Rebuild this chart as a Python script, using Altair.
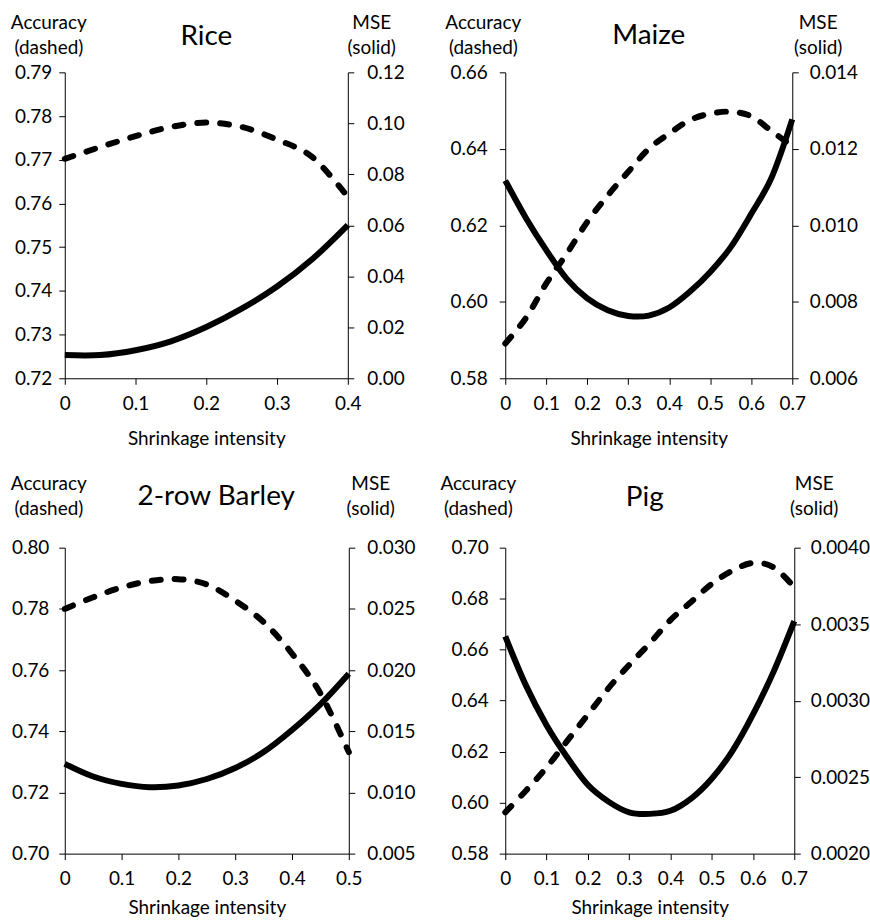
import altair as alt
import pandas as pd

FONT = "Lato"

# ---------------- data ----------------
rice_x = [0, 0.05, 0.1, 0.15, 0.2, 0.25, 0.3, 0.35, 0.4]
rice_acc = [0.7702, 0.7729, 0.7754, 0.7775, 0.7785, 0.7775, 0.7746, 0.7706, 0.7615]
rice_mse = [0.0091, 0.0091, 0.0110, 0.0145, 0.0201, 0.0273, 0.0360, 0.0468, 0.0601]

maize_x = [0, 0.05, 0.1, 0.15, 0.2, 0.25, 0.3, 0.35, 0.4, 0.45, 0.5, 0.55, 0.6, 0.65, 0.7]
maize_acc = [0.5891, 0.5957, 0.6048, 0.6126, 0.6209, 0.6278, 0.6340, 0.6400, 0.6440,
             0.6475, 0.6492, 0.6497, 0.6485, 0.6446, 0.6407]
maize_mse = [0.01117, 0.01020, 0.00935, 0.00860, 0.00809, 0.00778, 0.00763, 0.00764,
             0.00785, 0.00826, 0.00878, 0.00943, 0.01030, 0.01126, 0.01277]

barley_x = [0, 0.05, 0.1, 0.15, 0.2, 0.25, 0.3, 0.35, 0.4, 0.45, 0.5]
barley_acc = [0.7800, 0.7838, 0.7870, 0.7891, 0.7897, 0.7880, 0.7827, 0.7757, 0.7654, 0.7524, 0.7332]
barley_mse = [0.01234, 0.01130, 0.01070, 0.01043, 0.01057, 0.01110, 0.01200, 0.01330, 0.01510, 0.01720, 0.01970]

pig_x = [0, 0.05, 0.1, 0.15, 0.2, 0.25, 0.3, 0.35, 0.4, 0.45, 0.5, 0.55, 0.6, 0.65, 0.7]
pig_acc = [0.5962, 0.6047, 0.6138, 0.6242, 0.6345, 0.6449, 0.6540, 0.6625, 0.6716,
           0.6787, 0.6858, 0.6910, 0.6940, 0.6923, 0.6845]
pig_mse = [0.00342, 0.00310, 0.00284, 0.00263, 0.00245, 0.00234, 0.00227, 0.00226,
           0.00228, 0.00236, 0.00249, 0.00267, 0.00291, 0.00319, 0.00352]

rice_xticks = [0, 0.1, 0.2, 0.3, 0.4]
long_xticks = [0, 0.1, 0.2, 0.3, 0.4, 0.5, 0.6, 0.7]
barley_xticks = [0, 0.1, 0.2, 0.3, 0.4, 0.5]

rice_acc_ticks = [0.72, 0.73, 0.74, 0.75, 0.76, 0.77, 0.78, 0.79]
rice_mse_ticks = [0.0, 0.02, 0.04, 0.06, 0.08, 0.10, 0.12]
maize_acc_ticks = [0.58, 0.60, 0.62, 0.64, 0.66]
maize_mse_ticks = [0.006, 0.008, 0.010, 0.012, 0.014]
barley_acc_ticks = [0.70, 0.72, 0.74, 0.76, 0.78, 0.80]
barley_mse_ticks = [0.005, 0.010, 0.015, 0.020, 0.025, 0.030]
pig_acc_ticks = [0.58, 0.60, 0.62, 0.64, 0.66, 0.68, 0.70]
pig_mse_ticks = [0.0020, 0.0025, 0.0030, 0.0035, 0.0040]

AX = dict(grid=False, tickSize=6, labelFontSize=19, labelFont=FONT, titleFont=FONT,
          domainColor="black", tickColor="black", labelColor="black", titleColor="black",
          domainWidth=1, tickWidth=1, labelOverlap=False)


def text(txt, x, y, size=19):
    return alt.Chart(pd.DataFrame({"t": [txt]})).mark_text(
        font=FONT, fontSize=size, align="center", baseline="alphabetic", color="black"
    ).encode(text="t:N", x=alt.value(x), y=alt.value(y))


def anchor_mark(x, y):
    return alt.Chart(pd.DataFrame({"a": [0]})).mark_rule(color="white", strokeWidth=1).encode(
        x=alt.value(x), x2=alt.value(x + 1), y=alt.value(y)
    )


def panel(name, xs, acc, mse, w, h, xticks, acc_dom, acc_ticks, acc_fmt,
          mse_dom, mse_ticks, mse_fmt, lpad, rpad, acc_cx, mse_cx, title_cx,
          title_base, l1, l2, tpad, anchors=()):
    df = pd.DataFrame({"x": xs, "acc": acc, "mse": mse})
    xaxis = alt.Axis(values=xticks, title="Shrinkage intensity", labelFlush=False,
                     labelExpr="datum.value == 0 ? '0' : format(datum.value, '.1f')",
                     labelPadding=10, titlePadding=tpad, titleFontSize=19,
                     titleFontWeight="normal", **AX)
    xenc = alt.X("x:Q", scale=alt.Scale(domain=[0, xticks[-1]], nice=False, zero=False), axis=xaxis)
    dashed = alt.Chart(df).mark_line(
        color="black", strokeWidth=6, strokeDash=[9, 14], strokeCap="round",
        interpolate="cardinal"
    ).encode(
        x=xenc,
        y=alt.Y("acc:Q", scale=alt.Scale(domain=acc_dom, nice=False, zero=False),
                axis=alt.Axis(orient="left", values=acc_ticks, format=acc_fmt, title=None,
                              labelPadding=lpad, **AX)),
    )
    solid = alt.Chart(df).mark_line(
        color="black", strokeWidth=6, interpolate="cardinal"
    ).encode(
        x=xenc,
        y=alt.Y("mse:Q", scale=alt.Scale(domain=mse_dom, nice=False, zero=False),
                axis=alt.Axis(orient="right", values=mse_ticks, format=mse_fmt, title=None,
                              labelPadding=rpad, **AX)),
    )
    layers = [dashed, solid,
              text(name, title_cx, title_base, 28),
              text("Accuracy", acc_cx, l1), text("(dashed)", acc_cx, l2),
              text("MSE", mse_cx, l1), text("(solid)", mse_cx, l2)]
    layers += [anchor_mark(ax, ay) for ax, ay in anchors]
    return alt.layer(*layers).resolve_scale(y="independent").properties(width=w, height=h)


H = 307
rice = panel("Rice", rice_x, rice_acc, rice_mse, 284, H, rice_xticks,
             [0.72, 0.79], rice_acc_ticks, ".2f", [0, 0.12], rice_mse_ticks, ".2f",
             7, 13, -16, 284 + 24, 142, -27, -43, -18, 16, anchors=[(-64.5, -70.5)])
maize = panel("Maize", maize_x, maize_acc, maize_mse, 288, H, long_xticks,
              [0.58, 0.66], maize_acc_ticks, ".2f", [0.006, 0.014], maize_mse_ticks, ".3f",
              12, 11, -22, 288 + 26, 144, -28, -43, -18, 16)
barley = panel("2-row Barley", barley_x, barley_acc, barley_mse, 285, H, barley_xticks,
               [0.70, 0.80], barley_acc_ticks, ".2f", [0.005, 0.030], barley_mse_ticks, ".3f",
               10, 12, -16, 285 + 22, 152, -43, -58, -33, 10)
pig = panel("Pig", pig_x, pig_acc, pig_mse, 290, H, long_xticks,
            [0.58, 0.70], pig_acc_ticks, ".2f", [0.0020, 0.0040], pig_mse_ticks, ".4f",
            11, 10, -27, 290 + 20, 140, -42, -58, -33, 10)

chart = alt.concat(
    rice, maize, barley, pig, columns=2, bounds="flush",
    spacing={"row": 170, "column": 157},
).configure_view(stroke=None).properties(padding=0, background="white")

chart.save("out.html", embed_options={"renderer": "svg", "actions": False})
